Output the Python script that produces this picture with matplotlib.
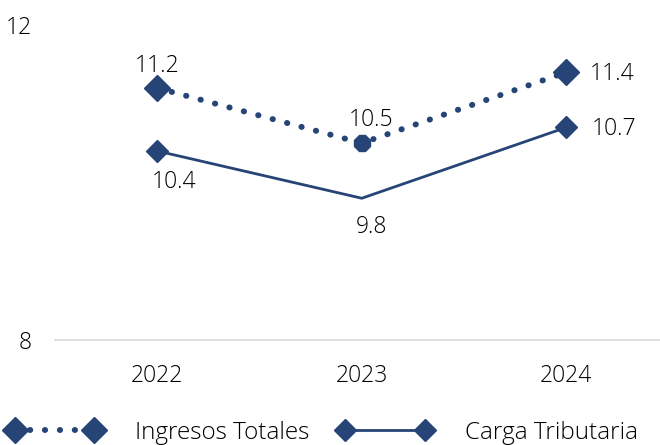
import numpy as np
import matplotlib
matplotlib.use('Agg')
import matplotlib.pyplot as plt

plt.rcParams['font.family'] = ['Open Sans', 'DejaVu Sans']
plt.rcParams['font.weight'] = 'light'

years = ['2022', '2023', '2024']
ingresos = [11.2, 10.5, 11.4]
carga = [10.4, 9.8, 10.7]
color = '#264576'
fs = 16.5

fig = plt.figure(figsize=(6.6, 4.45), dpi=100)
ax = fig.add_axes([55/660, 1 - 340/445, 615/660, 315/445])
x = np.arange(len(years))

l1, = ax.plot(x, ingresos, color=color, linestyle=(0, (0.05, 2.45)), linewidth=4.3,
              dash_capstyle='round', marker='D', markersize=13, markevery=[0, 2],
              label='Ingresos Totales')
# marcador 2023 (borde punteado en el original)
ax.plot(x[1], ingresos[1], color=color, marker='8', markersize=13, linestyle='none')
l2, = ax.plot(x, carga, color=color, linewidth=2, marker='D', markersize=11,
              markevery=[0, 2], label='Carga Tributaria')

# etiquetas
off_ing = [(0, 16), (6.5, 16.5), (33, -1.5)]
off_car = [(12, -22), (7, -21), (34.5, -1)]
for i in range(len(years)):
    ax.annotate(f'{ingresos[i]:.1f}', (x[i], ingresos[i]), xytext=off_ing[i],
                textcoords='offset points', ha='center', va='center', fontsize=fs)
    ax.annotate(f'{carga[i]:.1f}', (x[i], carga[i]), xytext=off_car[i],
                textcoords='offset points', ha='center', va='center', fontsize=fs)

ax.set_xlim(-0.5, 2.507)
ax.set_ylim(8, 12)
ax.set_yticks([8, 12])
ax.set_xticks(x)
ax.set_xticklabels(years)
ax.tick_params(axis='both', length=0, labelsize=fs)
ax.tick_params(axis='x', pad=17)
ax.tick_params(axis='y', pad=16.5)
for s in ['top', 'right', 'left']:
    ax.spines[s].set_visible(False)
ax.spines['bottom'].set_color('#d9d9d9')
ax.spines['bottom'].set_linewidth(1.2)

# leyenda en dos piezas para fijar la posicion de cada entrada
leg_kw = dict(loc='center left', frameon=False, fontsize=17.5, numpoints=2,
              handlelength=3.87, handletextpad=1.36, borderpad=0, borderaxespad=0)
fig.legend(handles=[l1], bbox_to_anchor=(7.5/660, 12/445), **leg_kw)
fig.legend(handles=[l2], bbox_to_anchor=(338/660, 12/445), **leg_kw)

fig.savefig('out.png', dpi=100)
